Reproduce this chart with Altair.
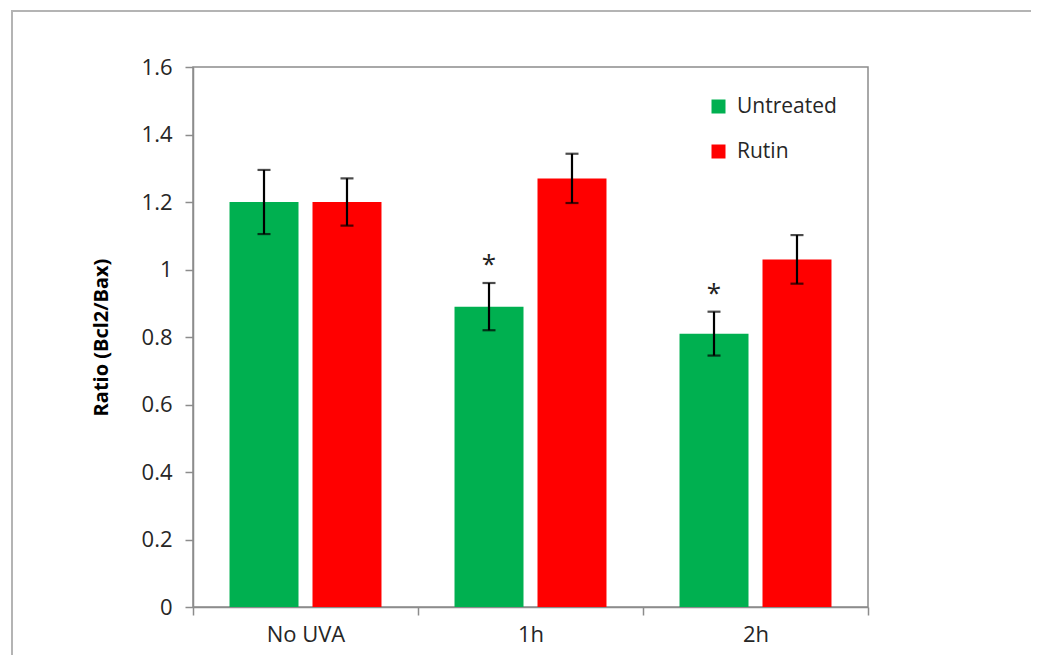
import altair as alt
import pandas as pd

groups = ["No UVA", "1h", "2h"]
treatments = ["Untreated", "Rutin"]
untreated_vals = [1.20, 0.89, 0.81]
untreated_err = [0.095, 0.07, 0.065]
rutin_vals = [1.20, 1.27, 1.03]
rutin_err = [0.07, 0.073, 0.072]
untreated_sig = ["", "*", "*"]
rutin_sig = ["", "", ""]
colors = ["#00B050", "#FF0000"]

rows = []
for i, g in enumerate(groups):
    rows.append(dict(group=g, treatment="Untreated", value=untreated_vals[i],
                     lo=untreated_vals[i] - untreated_err[i], hi=untreated_vals[i] + untreated_err[i],
                     sig=untreated_sig[i]))
    rows.append(dict(group=g, treatment="Rutin", value=rutin_vals[i],
                     lo=rutin_vals[i] - rutin_err[i], hi=rutin_vals[i] + rutin_err[i],
                     sig=rutin_sig[i]))
df = pd.DataFrame(rows)

FONT = "Open Sans"
TXT = "#262626"
AX = "#8C8C8C"

x = alt.X("group:N", sort=groups,
          scale=alt.Scale(paddingInner=0, paddingOuter=0),
          axis=alt.Axis(title=None, labelAngle=0, tickBand="extent", tickSize=8,
                        domainColor=AX, tickColor=AX, labelFontSize=22, labelFont=FONT,
                        labelColor=TXT, labelPadding=9, domainWidth=1.5, tickWidth=1.5))
xo = alt.XOffset("treatment:N", sort=treatments,
                 scale=alt.Scale(paddingInner=0.1687, paddingOuter=0.44))
yscale = alt.Scale(domain=[0, 1.6], nice=False)
yaxis = alt.Axis(title="Ratio (Bcl2/Bax)", values=[0, 0.2, 0.4, 0.6, 0.8, 1.0, 1.2, 1.4, 1.6],
                 format="~g", grid=False, tickSize=8, domainColor=AX, tickColor=AX,
                 labelFontSize=22, labelFont=FONT, labelColor=TXT, labelPadding=13,
                 titleFontSize=20, titleFont=FONT, titleFontWeight="bold", titleColor="#000000",
                 titlePadding=30, domainWidth=1.5, tickWidth=1.5)

base = alt.Chart(df)

bars = base.mark_bar().encode(
    x=x, xOffset=xo,
    y=alt.Y("value:Q", scale=yscale, axis=yaxis),
    color=alt.Color("treatment:N", sort=treatments,
                    scale=alt.Scale(domain=treatments, range=colors),
                    legend=alt.Legend(title=None, orient="none", legendX=515, legendY=29,
                                      symbolType="square", symbolSize=196, symbolStrokeWidth=0,
                                      labelFontSize=21, labelFont=FONT, labelColor=TXT,
                                      rowPadding=23, labelOffset=8)),
)

rules = base.mark_rule(color="black", strokeWidth=2.2).encode(
    x=x, xOffset=xo, y=alt.Y("lo:Q", scale=yscale), y2="hi:Q")
caps_hi = base.mark_tick(color="black", thickness=2.2, size=13).encode(
    x=x, xOffset=xo, y=alt.Y("hi:Q", scale=yscale))
caps_lo = base.mark_tick(color="black", thickness=2.2, size=13).encode(
    x=x, xOffset=xo, y=alt.Y("lo:Q", scale=yscale))
stars = base.mark_text(fontSize=26, font=FONT, color="#222222", baseline="alphabetic", dy=-10).encode(
    x=x, xOffset=xo, y=alt.Y("hi:Q", scale=yscale), text="sig:N")

frame = alt.Chart(pd.DataFrame({"a": [0]})).mark_rect(
    fill=None, stroke="#B4B4B4", strokeWidth=2).encode(
    x=alt.value(-181), x2=alt.value(841), y=alt.value(-56), y2=alt.value(640))

chart = alt.layer(frame, bars, rules, caps_hi, caps_lo, stars).properties(
    width=675, height=540, autosize="none",
    padding={"left": 185, "top": 59, "right": 163, "bottom": 48},
).configure_view(stroke=AX, strokeWidth=1.5)

chart.save("out.html", embed_options={"renderer": "svg", "actions": False})
